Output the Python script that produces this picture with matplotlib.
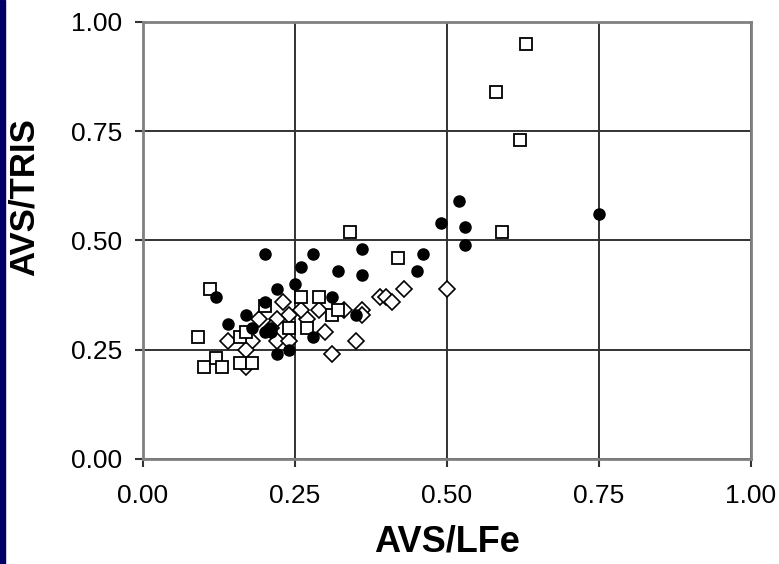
import matplotlib.pyplot as plt
from matplotlib.patches import Rectangle

plt.rcParams['font.family'] = ['Liberation Sans', 'DejaVu Sans']

# filled markers
x_fill = [0.75, 0.52, 0.53, 0.53, 0.49, 0.46, 0.45, 0.36, 0.36, 0.32, 0.28, 0.26,
          0.25, 0.22, 0.20, 0.31, 0.12, 0.14, 0.17, 0.20, 0.21, 0.22, 0.24, 0.28,
          0.35, 0.20, 0.18, 0.21]
y_fill = [0.56, 0.59, 0.53, 0.49, 0.54, 0.47, 0.43, 0.48, 0.42, 0.43, 0.47, 0.44,
          0.40, 0.39, 0.47, 0.37, 0.37, 0.31, 0.33, 0.29, 0.29, 0.24, 0.25, 0.28,
          0.33, 0.36, 0.30, 0.30]

# open squares
x_sq = [0.63, 0.58, 0.62, 0.59, 0.34, 0.42, 0.11, 0.09, 0.10, 0.12, 0.13, 0.16,
        0.18, 0.16, 0.17, 0.20, 0.24, 0.27, 0.26, 0.29, 0.31, 0.32]
y_sq = [0.95, 0.84, 0.73, 0.52, 0.52, 0.46, 0.39, 0.28, 0.21, 0.23, 0.21, 0.22,
        0.22, 0.28, 0.29, 0.35, 0.30, 0.30, 0.37, 0.37, 0.33, 0.34]

# open diamonds
x_dia = [0.50, 0.43, 0.39, 0.40, 0.41, 0.36, 0.36, 0.35, 0.31, 0.30, 0.29, 0.27,
         0.26, 0.24, 0.23, 0.22, 0.22, 0.19, 0.18, 0.17, 0.17, 0.14, 0.24, 0.33,
         0.21]
y_dia = [0.39, 0.39, 0.37, 0.37, 0.36, 0.34, 0.33, 0.27, 0.24, 0.29, 0.34, 0.32,
         0.34, 0.33, 0.36, 0.32, 0.27, 0.32, 0.27, 0.25, 0.21, 0.27, 0.27, 0.34,
         0.30]

ticks = [0.0, 0.25, 0.5, 0.75, 1.0]

fig = plt.figure(figsize=(7.79, 5.64), dpi=100)
fig.patches.append(Rectangle((0, 0), 5 / 779, 1, transform=fig.transFigure,
                             color='#000066', zorder=0))
ax = fig.add_axes([0.1836, 0.1862, 0.7805, 0.7748])

ax.plot(x_dia, y_dia, 'D', ms=8, mfc='white', mec='black', mew=1.2, ls='none', zorder=3)
ax.plot(x_sq, y_sq, 's', ms=9, mfc='white', mec='black', mew=1.3, ls='none', zorder=4)
ax.plot(x_fill, y_fill, 'o', ms=8, mfc='black', mec='black', ls='none', zorder=5)

ax.set_xlim(0, 1)
ax.set_ylim(0, 1)
ax.set_xticks(ticks)
ax.set_yticks(ticks)
ax.set_xticklabels(['%.2f' % t for t in ticks])
ax.set_yticklabels(['%.2f' % t for t in ticks])
ax.grid(True, color='#333333', lw=1.4)
ax.set_axisbelow(True)
for s in ax.spines.values():
    s.set_color('#808080')
    s.set_linewidth(2)
ax.tick_params(direction='out', length=6, width=1.5, color='#333333',
               labelsize=19)
ax.tick_params(axis='x', pad=12)
ax.tick_params(axis='y', pad=9)

ax.set_xlabel('AVS/LFe', fontsize=26, fontweight='bold', labelpad=12)
ax.set_ylabel('AVS/TRIS', fontsize=25, fontweight='bold')
ax.yaxis.set_label_coords(-0.168, 0.6)

fig.savefig('out.png', dpi=100)
